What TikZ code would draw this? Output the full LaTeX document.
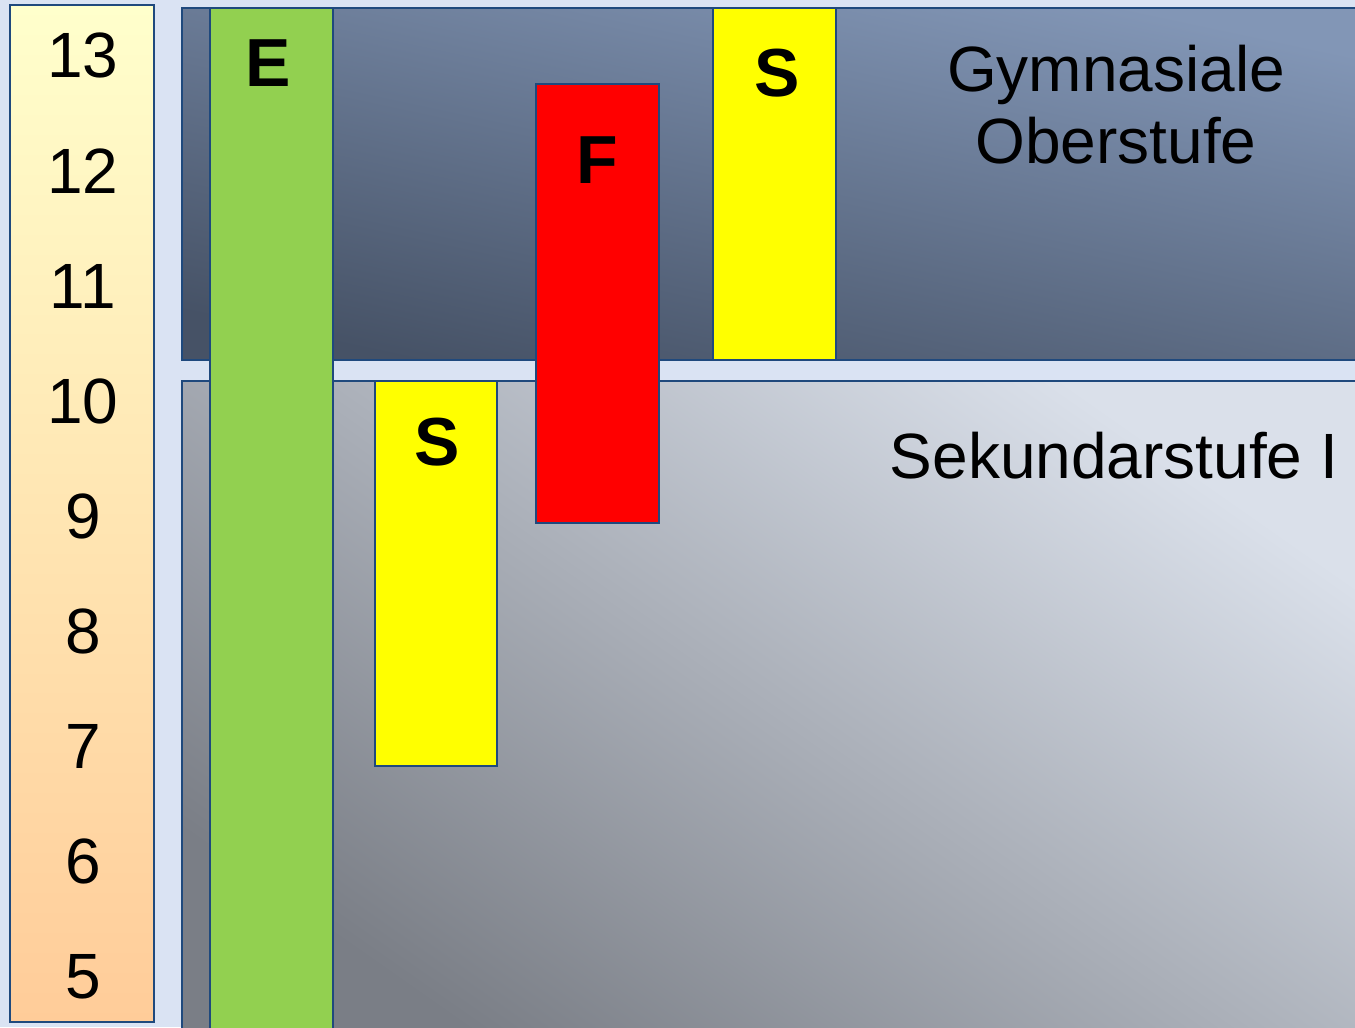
\documentclass[tikz,border=0pt]{standalone}
\usepackage{fontspec}
\setmainfont{Liberation Sans}
\definecolor{bgblue}{RGB}{218,227,243}
\definecolor{frame}{RGB}{31,73,125}
\definecolor{lightyel}{RGB}{255,255,204}
\definecolor{peach}{RGB}{255,204,153}
\definecolor{obertop}{RGB}{130,150,182}
\definecolor{oberbot}{RGB}{70,82,102}
\definecolor{sektop}{RGB}{218,224,234}
\definecolor{sekbot}{RGB}{122,126,134}
\definecolor{kgreen}{RGB}{146,208,80}
\definecolor{kyellow}{RGB}{255,255,0}
\definecolor{kred}{RGB}{255,0,0}
\tikzset{
  box/.style={draw=frame,line width=1pt},
  grade/.style={anchor=base,font=\fontsize{48}{58}\selectfont},
  subj/.style={anchor=base,font=\fontsize{51}{60}\selectfont\bfseries},
  stage/.style={anchor=base,font=\fontsize{48}{58}\selectfont}
}
\begin{document}
\begin{tikzpicture}[x=0.75pt,y=-0.75pt]
\useasboundingbox (0,0) rectangle (1355,1027);
\clip (0,0) rectangle (1355,1027);
\fill[bgblue] (0,0) rectangle (1355,1027);
% Jahrgangsstufen
\draw[box,top color=lightyel,bottom color=peach] (10,5) rectangle (154,1022);
\foreach \n in {5,...,13}
  \node[grade] (g\n) at (83,{998-115*(\n-5)}) {\n};
% Stufen
\draw[box,top color=obertop,bottom color=oberbot,shading angle=-12] (182,8) rectangle (1365,360);
\draw[box,top color=sektop,bottom color=sekbot,shading angle=-35] (182,381) rectangle (1365,1040);
\node[stage] (gym) at (1116,92) {Gymnasiale};
\node[stage] (ober) at (1116,164) {Oberstufe};
\node[stage] (sek) at (1114,478) {Sekundarstufe I};
% Fremdsprachen
\draw[box,fill=kgreen] (210,8) rectangle (333,1040);
\node[subj] (e) at (268,87) {E};
\draw[box,fill=kyellow] (375,381) rectangle (497,766);
\node[subj] (s1) at (437,465) {S};
\draw[box,fill=kred] (536,84) rectangle (659,523);
\node[subj] (f) at (597,183) {F};
\draw[box,fill=kyellow] (713,8) rectangle (836,360);
\node[subj] (s2) at (777,97) {S};
\end{tikzpicture}
\end{document}
